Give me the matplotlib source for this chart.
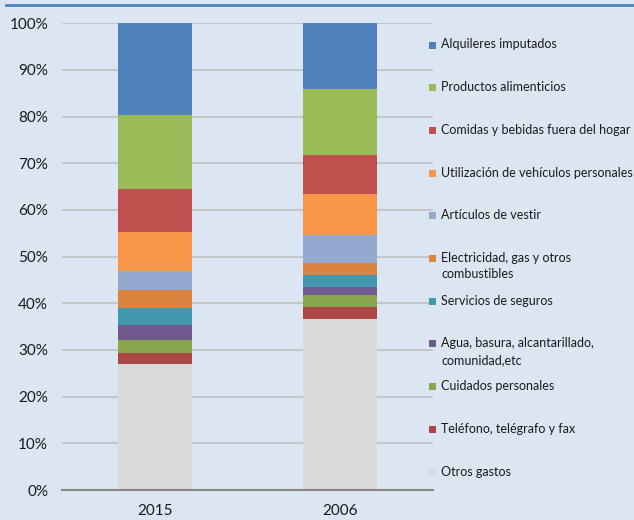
import numpy as np
import matplotlib.pyplot as plt
from matplotlib.patches import Rectangle
from matplotlib.lines import Line2D

plt.rcParams['font.family'] = ['Lato', 'DejaVu Sans']

years = ['2015', '2006']

# categories from bottom of the stack to the top
categories = [
    'Otros gastos',
    'Teléfono, telégrafo y fax',
    'Cuidados personales',
    'Agua, basura, alcantarillado,\ncomunidad,etc',
    'Servicios de seguros',
    'Electricidad, gas y otros\ncombustibles',
    'Artículos de vestir',
    'Utilización de vehículos personales',
    'Comidas y bebidas fuera del hogar',
    'Productos alimenticios',
    'Alquileres imputados',
]

share_2015 = [26.9, 2.4, 2.8, 3.3, 3.6, 3.9, 4.1, 8.3, 9.3, 15.8, 19.6]
share_2006 = [36.6, 2.7, 2.5, 1.8, 2.5, 2.5, 6.1, 8.7, 8.4, 14.1, 14.1]

colors = ['#D9D9D9', '#AA4643', '#89A54E', '#71588F', '#4198AF', '#DB843D',
          '#93A9CF', '#F79646', '#C0504D', '#9BBB59', '#4F81BD']

bg = '#DCE6F2'
W, H = 634, 520

fig = plt.figure(figsize=(W / 100, H / 100), dpi=100, facecolor=bg)
ax = fig.add_axes([62 / W, (H - 490) / H, (433 - 62) / W, (490 - 23.3) / H])
ax.set_facecolor(bg)

x = np.arange(len(years))
bottom = np.zeros(len(years))
for cat, a, b, c in zip(categories, share_2015, share_2006, colors):
    vals = np.array([a, b]) / 100
    ax.bar(x, vals, 0.4, bottom=bottom, color=c, edgecolor='none', zorder=3)
    bottom += vals

ax.set_xlim(-0.5, 1.5)
ax.set_ylim(0, 1)
ticks = np.arange(0, 1.01, 0.1)
ax.set_yticks(ticks)
ax.set_yticklabels([f'{int(round(v * 100))}%' for v in ticks],
                   fontsize=11, color='#1a1a1a')
ax.set_xticks(x)
ax.set_xticklabels(years, fontsize=11, color='#1a1a1a')
ax.tick_params(axis='y', length=0, pad=10)
ax.tick_params(axis='x', length=0, pad=10)
ax.grid(axis='y', color='#BFBFBF', linewidth=1.2, zorder=0)
for s in ['top', 'right', 'left']:
    ax.spines[s].set_visible(False)
ax.spines['bottom'].set_color('#868686')
ax.spines['bottom'].set_linewidth(1.5)
ax.spines['bottom'].set_zorder(4)

# legend, top entry first
step = 42.7
for i, (cat, c) in enumerate(zip(categories[::-1], colors[::-1])):
    yc = 45 + i * step
    fig.add_artist(Rectangle((429 / W, (H - yc - 3.5) / H), 7 / W, 7 / H,
                             transform=fig.transFigure, facecolor=c,
                             edgecolor='none'))
    fig.text(441 / W, (H - yc + 6.5) / H, cat, fontsize=9, color='#1a1a1a',
             va='top', ha='left', linespacing=1.45)

# blue rule at the top
fig.add_artist(Line2D([6 / W, 1], [(H - 5) / H, (H - 5) / H],
                      transform=fig.transFigure, color='#4F81BD', linewidth=2))

fig.savefig('out.png', dpi=100, facecolor=bg)
